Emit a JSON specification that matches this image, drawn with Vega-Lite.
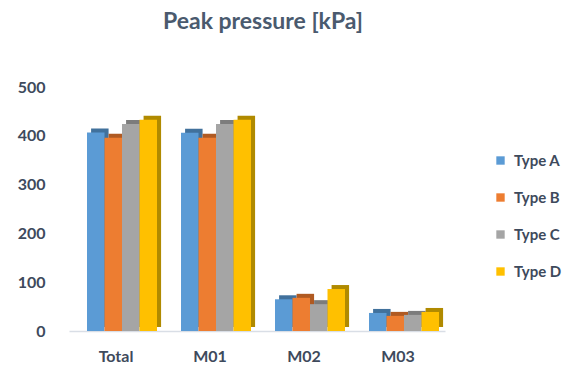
{
  "$schema": "https://vega.github.io/schema/vega-lite/v6.json",
  "autosize": {"type": "none"},
  "width": 376,
  "height": 244,
  "padding": {"left": 69, "top": 87, "right": 131, "bottom": 36},
  "background": "white",
  "title": {
    "text": "Peak pressure [kPa]",
    "font": "Lato",
    "fontSize": 23,
    "fontWeight": "bold",
    "color": "#4A5A6E",
    "offset": 45,
    "dx": 6
  },
  "data": {
    "values": [
      {"group": "Total", "type": "Type A", "value": 407},
      {"group": "Total", "type": "Type B", "value": 396},
      {"group": "Total", "type": "Type C", "value": 424},
      {"group": "Total", "type": "Type D", "value": 433},
      {"group": "M01", "type": "Type A", "value": 406},
      {"group": "M01", "type": "Type B", "value": 396},
      {"group": "M01", "type": "Type C", "value": 424},
      {"group": "M01", "type": "Type D", "value": 433},
      {"group": "M02", "type": "Type A", "value": 65},
      {"group": "M02", "type": "Type B", "value": 68},
      {"group": "M02", "type": "Type C", "value": 55},
      {"group": "M02", "type": "Type D", "value": 86},
      {"group": "M03", "type": "Type A", "value": 37},
      {"group": "M03", "type": "Type B", "value": 31},
      {"group": "M03", "type": "Type C", "value": 33},
      {"group": "M03", "type": "Type D", "value": 39}
    ]
  },
  "encoding": {
    "x": {
      "field": "group",
      "type": "nominal",
      "sort": ["Total", "M01", "M02", "M03"],
      "scale": {"paddingInner": 0, "paddingOuter": 0},
      "axis": {
        "title": null,
        "labelAngle": 0,
        "labelFont": "Lato",
        "labelFontSize": 16,
        "labelFontWeight": "bold",
        "labelColor": "#3E4A5C",
        "labelPadding": 17,
        "ticks": false,
        "domainColor": "#D9DEE6",
        "domainWidth": 1.5
      }
    },
    "y": {
      "field": "value",
      "type": "quantitative",
      "scale": {"domain": [0, 500]},
      "axis": {
        "title": null,
        "values": [0, 100, 200, 300, 400, 500],
        "grid": false,
        "domain": false,
        "ticks": false,
        "labelFont": "Lato",
        "labelFontSize": 16,
        "labelFontWeight": "bold",
        "labelColor": "#3E4A5C",
        "labelPadding": 24
      }
    }
  },
  "layer": [
    {
      "mark": {"type": "bar", "yOffset": -4},
      "encoding": {
        "xOffset": {
          "field": "type",
          "type": "nominal",
          "scale": {"paddingInner": 0, "paddingOuter": 0.686, "align": 0.92}
        },
        "color": {
          "field": "type",
          "type": "nominal",
          "scale": {
            "domain": ["Type A", "Type B", "Type C", "Type D"],
            "range": ["#41719C", "#B05A22", "#7C7C7C", "#B08A00"]
          },
          "legend": null
        }
      }
    },
    {
      "mark": {"type": "bar"},
      "encoding": {
        "xOffset": {
          "field": "type",
          "type": "nominal",
          "scale": {"paddingInner": 0, "paddingOuter": 0.686, "align": 0.75}
        },
        "color": {
          "field": "type",
          "type": "nominal",
          "scale": {
            "domain": ["Type A", "Type B", "Type C", "Type D"],
            "range": ["#5B9BD5", "#ED7D31", "#A5A5A5", "#FFC000"]
          },
          "legend": {
            "title": null,
            "orient": "none",
            "legendX": 424,
            "legendY": 66,
            "symbolType": "square",
            "symbolSize": 70,
            "symbolStrokeWidth": 0,
            "labelFont": "Lato",
            "labelFontSize": 15,
            "labelFontWeight": "bold",
            "labelColor": "#3E4A5C",
            "labelOffset": 6,
            "rowPadding": 21
          }
        }
      }
    }
  ],
  "resolve": {"scale": {"color": "independent", "xOffset": "independent"}},
  "config": {"view": {"stroke": null}}
}
